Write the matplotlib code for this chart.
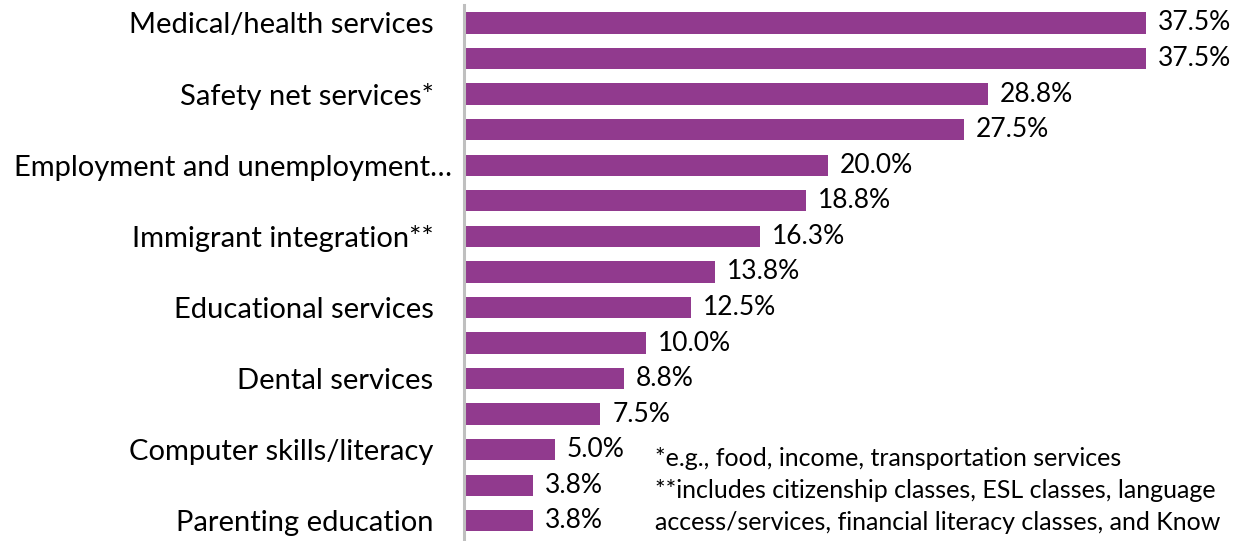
import matplotlib.pyplot as plt
import matplotlib.transforms as mtransforms

# service needs, top to bottom; unlabeled rows have no tick text
categories = [
    "Medical/health services", "",
    "Safety net services*", "",
    "Employment and unemployment\u2026", "",
    "Immigrant integration**", "",
    "Educational services", "",
    "Dental services", "",
    "Computer skills/literacy", "",
    "Parenting education",
]
values = [37.5, 37.5, 28.8, 27.5, 20.0, 18.8, 16.3, 13.8, 12.5, 10.0, 8.8, 7.5, 5.0, 3.8, 3.8]
footnotes = [
    "*e.g., food, income, transportation services",
    "**includes citizenship classes, ESL classes, language",
    "access/services, financial literacy classes, and Know",
]

plt.rcParams['font.family'] = ['Lato', 'DejaVu Sans']

W, H = 1241, 541
fig = plt.figure(figsize=(W / 100, H / 100), dpi=100)
ax = fig.add_axes([464 / W, 2.4 / H, 773 / W, 533.4 / H])

ypos = list(range(len(values)))
ax.barh(ypos, values, height=0.6, color="#913A8E")
ax.set_xlim(0, 42.5)
ax.set_ylim(len(values) - 0.5, -0.5)

for y, v in zip(ypos, values):
    ax.annotate(f"{v:.1f}%", (v, y), xytext=(8.5, 0), textcoords="offset points",
                va="center", ha="left", fontsize=19)

ax.set_yticks(ypos)
ax.set_yticklabels(categories, fontsize=21)
ax.tick_params(axis="y", length=0, pad=22)
ax.set_xticks([])
for s in ["top", "right", "bottom"]:
    ax.spines[s].set_visible(False)
ax.spines["left"].set_color("#BFBFBF")
ax.spines["left"].set_linewidth(2.2)

# the truncated label sits closer to the axis and must fit inside the figure
fig.canvas.draw()
renderer = fig.canvas.get_renderer()
for lab in ax.get_yticklabels():
    if lab.get_text().endswith("\u2026"):
        lab.set_transform(lab.get_transform() + mtransforms.ScaledTranslation(19 / 100, 0, fig.dpi_scale_trans))
        while lab.get_window_extent(renderer).x0 < 4:
            lab.set_fontsize(lab.get_fontsize() - 0.25)

for i, line in enumerate(footnotes):
    fig.text(655 / W, 1 - (459 + 32 * i) / H, line, fontsize=18, va="center", ha="left")

fig.savefig("out.png", dpi=100)
